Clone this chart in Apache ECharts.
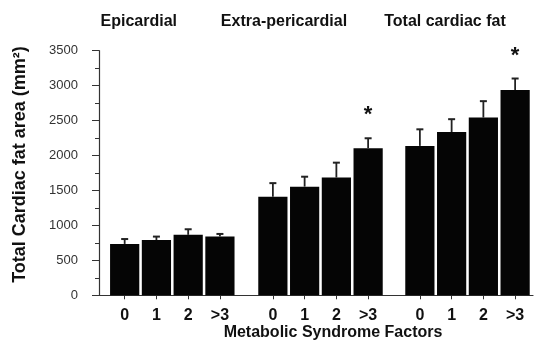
<!DOCTYPE html>
<html>
<head>
<meta charset="utf-8">
<script src="https://cdn.jsdelivr.net/npm/echarts@6/dist/echarts.min.js"></script>
<style>
  html, body { margin: 0; padding: 0; background: #fff; }
  #chart { width: 536px; height: 344px; }
</style>
</head>
<body>
<div id="chart"></div>
<script>
// Number of metabolic syndrome factors (category labels, repeated per panel)
const factors = ['0', '1', '2', '>3'];

// Panel headings
const panelTitles = ['Epicardial', 'Extra-pericardial', 'Total cardiac fat'];

// Mean fat area (mm²) and standard error per factor count
const epicardialMean = [735, 790, 865, 840];
const epicardialSE = [70, 50, 80, 38];

const extraPericardialMean = [1410, 1555, 1685, 2105];
const extraPericardialSE = [195, 142, 213, 142];

const totalCardiacMean = [2138, 2337, 2543, 2938];
const totalCardiacSE = [237, 183, 235, 164];

// 1 = statistically significant (marked with an asterisk)
const epicardialSig = [0, 0, 0, 0];
const extraPericardialSig = [0, 0, 0, 1];
const totalCardiacSig = [0, 0, 0, 1];

// Y axis range
const yMin = 0;
const yMax = 3500;
const yStep = 500;

const panels = [
  { mean: epicardialMean, se: epicardialSE, sig: epicardialSig },
  { mean: extraPericardialMean, se: extraPericardialSE, sig: extraPericardialSig },
  { mean: totalCardiacMean, se: totalCardiacSE, sig: totalCardiacSig }
];

const FONT = '"Liberation Sans", Arial, Helvetica, sans-serif';
const plotTop = 50.7;
const plotBottom = 48.7;
const panelLeft = [108.8, 257, 404];
const panelWidth = 127;

const grids = [{ left: 99, right: 3, top: plotTop, bottom: plotBottom }];
panelLeft.forEach(l => grids.push({ left: l, width: panelWidth, top: plotTop, bottom: plotBottom }));

const xAxes = [{
  gridIndex: 0,
  type: 'category',
  data: [''],
  axisLine: { show: true, lineStyle: { color: '#333', width: 1.2 } },
  axisTick: { show: false },
  axisLabel: { show: false }
}];
const yAxes = [{
  gridIndex: 0,
  type: 'value',
  min: yMin, max: yMax, interval: yStep,
  axisLine: { show: true, lineStyle: { color: '#333', width: 1.2 } },
  axisTick: { show: true, inside: false, length: 7, lineStyle: { color: '#333' } },
  minorTick: { show: true, splitNumber: 2, length: 4, lineStyle: { color: '#333' } },
  splitLine: { show: false },
  axisLabel: { fontFamily: FONT, fontSize: 13, color: '#333', margin: 21, formatter: v => String(v) }
}];

const series = [];

panels.forEach((p, i) => {
  const gi = i + 1;
  xAxes.push({
    gridIndex: gi,
    type: 'category',
    data: factors,
    axisLine: { show: false },
    axisTick: { show: true, alignWithLabel: true, length: 4, lineStyle: { color: '#333' } },
    axisLabel: { fontFamily: FONT, fontSize: 16, fontWeight: 'bold', color: '#111', margin: 12 }
  });
  yAxes.push({
    gridIndex: gi,
    type: 'value',
    min: yMin, max: yMax, interval: yStep,
    show: false,
    splitLine: { show: false }
  });

  series.push({
    type: 'bar',
    xAxisIndex: gi,
    yAxisIndex: gi,
    data: p.mean,
    barCategoryGap: '8%',
    itemStyle: { color: '#050505' },
    silent: true
  });

  // Upper error bars with caps; significant groups get an asterisk above
  series.push({
    type: 'custom',
    xAxisIndex: gi,
    yAxisIndex: gi,
    data: p.mean.map((m, k) => [k, m, p.se[k], p.sig[k]]),
    encode: { x: 0, y: 1 },
    z: 5,
    silent: true,
    renderItem: function (params, api) {
      const k = api.value(0);
      const m = api.value(1);
      const s = api.value(2);
      const base = api.coord([k, m]);
      const top = api.coord([k, m + s]);
      const cap = 3.5;
      const children = [
        { type: 'line', shape: { x1: base[0], y1: base[1], x2: top[0], y2: top[1] },
          style: { stroke: '#222', lineWidth: 1.8 } },
        { type: 'line', shape: { x1: top[0] - cap, y1: top[1], x2: top[0] + cap, y2: top[1] },
          style: { stroke: '#222', lineWidth: 2 } }
      ];
      if (api.value(3)) {
        children.push({
          type: 'text',
          x: top[0], y: top[1] - 23,
          style: { text: '*', font: 'bold 22px ' + FONT, fill: '#111', align: 'center', verticalAlign: 'middle' }
        });
      }
      return { type: 'group', children: children };
    }
  });
});

const titleX = [138.8, 284, 445];
const graphics = panelTitles.map((t, i) => ({
  type: 'text',
  x: titleX[i], y: 21.5,
  style: { text: t, font: 'bold 16px ' + FONT, fill: '#111', align: 'center', verticalAlign: 'middle' }
}));
graphics.push({
  type: 'text',
  x: 20.4, y: 164.5,
  rotation: Math.PI / 2,
  style: { text: 'Total Cardiac fat area (mm²)', font: 'bold 18px ' + FONT, fill: '#111', align: 'center', verticalAlign: 'middle' }
});
graphics.push({
  type: 'text',
  x: 333, y: 333,
  style: { text: 'Metabolic Syndrome Factors', font: 'bold 16px ' + FONT, fill: '#111', align: 'center', verticalAlign: 'middle' }
});

const chart = echarts.init(document.getElementById('chart'), null, { renderer: 'canvas' });
chart.setOption({
  animation: false,
  backgroundColor: '#fff',
  grid: grids,
  xAxis: xAxes,
  yAxis: yAxes,
  series: series,
  graphic: graphics
});
</script>
</body>
</html>
